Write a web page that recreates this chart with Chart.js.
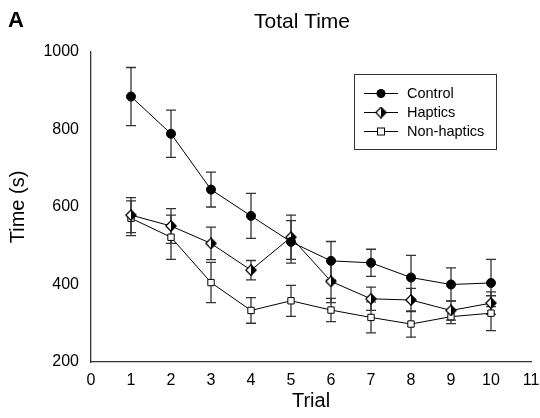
<!DOCTYPE html>
<html>
<head>
<meta charset="utf-8">
<script src="https://cdn.jsdelivr.net/npm/chart.js@4"></script>
<style>
  html, body { margin: 0; padding: 0; background: #fff; }
  #wrap { position: relative; width: 540px; height: 418px; }
</style>
</head>
<body>
<div id="wrap"><canvas id="chart" width="540" height="418"></canvas></div>
<script>
// values
const trials        = [1, 2, 3, 4, 5, 6, 7, 8, 9, 10];
const control       = [885, 789, 645, 577, 510, 461, 456, 418, 400, 404];
const controlErr    = [75, 61, 45, 58, 55, 50, 35, 57, 43, 61];
const haptics       = [579, 551, 506, 437, 522, 408, 363, 360, 333, 352];
const hapticsErr    = [45, 45, 42, 25, 57, 55, 30, 30, 25, 29];
const nonHaptics    = [571, 522, 405, 333, 358, 334, 315, 298, 317, 326];
const nonHapticsErr = [45, 57, 52, 33, 40, 30, 40, 34, 18, 45];
const seriesNames   = ['Control', 'Haptics', 'Non-haptics'];

const FONT = '"Liberation Sans", Arial, sans-serif';

// half filled diamond (left white, right black)
function halfDiamond(size) {
  const c = document.createElement('canvas');
  c.width = size; c.height = size;
  const g = c.getContext('2d');
  const m = size / 2, r = size / 2 - 0.8;
  g.beginPath();
  g.moveTo(m, m - r); g.lineTo(m + r, m); g.lineTo(m, m + r); g.closePath();
  g.fillStyle = '#000'; g.fill();
  g.beginPath();
  g.moveTo(m, m - r); g.lineTo(m - r, m); g.lineTo(m, m + r); g.closePath();
  g.fillStyle = '#fff'; g.fill();
  g.beginPath();
  g.moveTo(m, m - r); g.lineTo(m + r, m); g.lineTo(m, m + r); g.lineTo(m - r, m); g.closePath();
  g.strokeStyle = '#000'; g.lineWidth = 1.3; g.stroke();
  return c;
}
const diamondImg = halfDiamond(12);

const pts = vals => trials.map((t, i) => ({ x: t, y: vals[i] }));

const errorBars = {
  id: 'errorBars',
  beforeDatasetsDraw(chart) {
    const { ctx, scales: { x, y } } = chart;
    const errs = [controlErr, hapticsErr, nonHapticsErr];
    ctx.save();
    ctx.strokeStyle = '#333';
    ctx.lineWidth = 1.3;
    chart.data.datasets.forEach((ds, di) => {
      ds.data.forEach((p, i) => {
        const px = x.getPixelForValue(p.x);
        const top = y.getPixelForValue(p.y + errs[di][i]);
        const bot = y.getPixelForValue(p.y - errs[di][i]);
        ctx.beginPath();
        ctx.moveTo(px, top); ctx.lineTo(px, bot);
        ctx.moveTo(px - 5, top); ctx.lineTo(px + 5, top);
        ctx.moveTo(px - 5, bot); ctx.lineTo(px + 5, bot);
        ctx.stroke();
      });
    });
    ctx.restore();
  }
};

const decorations = {
  id: 'decorations',
  afterDraw(chart) {
    const ctx = chart.ctx;
    ctx.save();
    ctx.fillStyle = '#000';
    ctx.textBaseline = 'middle';
    ctx.font = 'bold 22px ' + FONT;
    ctx.textAlign = 'left';
    ctx.fillText('A', 8, 21);
    ctx.font = '21px ' + FONT;
    ctx.textAlign = 'center';
    ctx.fillText('Total Time', 302, 22);

    // legend box
    const bx = 354, by = 74, bw = 142, bh = 75;
    ctx.strokeStyle = '#333';
    ctx.lineWidth = 1;
    ctx.strokeRect(bx + 0.5, by + 0.5, bw, bh);
    ctx.font = '14.5px ' + FONT;
    ctx.textAlign = 'left';
    const rows = [93, 112, 131];
    chart.data.datasets.forEach((ds, i) => {
      const yy = rows[i];
      ctx.strokeStyle = '#000';
      ctx.beginPath();
      ctx.moveTo(364, yy + 0.5); ctx.lineTo(398, yy + 0.5);
      ctx.stroke();
      const cx = 381;
      if (i === 0) {
        ctx.beginPath(); ctx.arc(cx, yy + 0.5, 4.5, 0, Math.PI * 2);
        ctx.fillStyle = '#000'; ctx.fill();
      } else if (i === 1) {
        ctx.drawImage(diamondImg, cx - 6, yy - 5.5);
      } else {
        ctx.fillStyle = '#fff';
        ctx.fillRect(cx - 4, yy - 3.5, 8, 8);
        ctx.strokeRect(cx - 3.5, yy - 3, 7, 7);
      }
      ctx.fillStyle = '#000';
      ctx.fillText(seriesNames[i], 407, yy + 1);
    });
    ctx.restore();
  }
};

new Chart(document.getElementById('chart'), {
  type: 'line',
  data: {
    datasets: [
      {
        label: seriesNames[0], data: pts(control),
        borderColor: '#000', borderWidth: 1, backgroundColor: '#000',
        pointStyle: 'circle', pointRadius: 4.5, pointBorderColor: '#000', pointBackgroundColor: '#000',
      },
      {
        label: seriesNames[1], data: pts(haptics),
        borderColor: '#000', borderWidth: 1,
        pointStyle: diamondImg, pointRadius: 6,
      },
      {
        label: seriesNames[2], data: pts(nonHaptics),
        borderColor: '#000', borderWidth: 1,
        pointStyle: 'rect', pointRadius: 4.5, pointBorderColor: '#000', pointBackgroundColor: '#fff', pointBorderWidth: 1,
      },
    ],
  },
  options: {
    responsive: false,
    animation: false,
    layout: { padding: { top: 52, right: 9, left: 0, bottom: 0 } },
    plugins: { legend: { display: false }, tooltip: { enabled: false }, title: { display: false } },
    scales: {
      x: {
        type: 'linear', min: 0, max: 11,
        grid: { display: false, drawOnChartArea: false, drawTicks: true, tickLength: 4, tickColor: '#333' },
        border: { color: '#333', width: 1.3 },
        ticks: { stepSize: 1, color: '#000', font: { family: FONT, size: 16 }, padding: 5 },
        title: { display: true, text: 'Trial', color: '#000', font: { family: FONT, size: 20 }, padding: { top: 0, bottom: 5 } },
        afterFit(s) { s.height = 56; s.paddingLeft = 0; s.paddingRight = 0; },
      },
      y: {
        min: 200, max: 1000,
        grid: { display: false, drawOnChartArea: false, drawTicks: true, tickLength: 4, tickColor: '#333' },
        border: { color: '#333', width: 1.3 },
        ticks: { stepSize: 200, color: '#000', font: { family: FONT, size: 16 }, padding: 8, callback: v => String(v) },
        title: { display: true, text: 'Time (s)', color: '#000', font: { family: FONT, size: 20 }, padding: { top: 6, bottom: 0 } },
        afterFit(s) { s.width = 91; s.paddingTop = 0; s.paddingBottom = 0; },
      },
    },
  },
  plugins: [errorBars, decorations],
});
</script>
</body>
</html>
